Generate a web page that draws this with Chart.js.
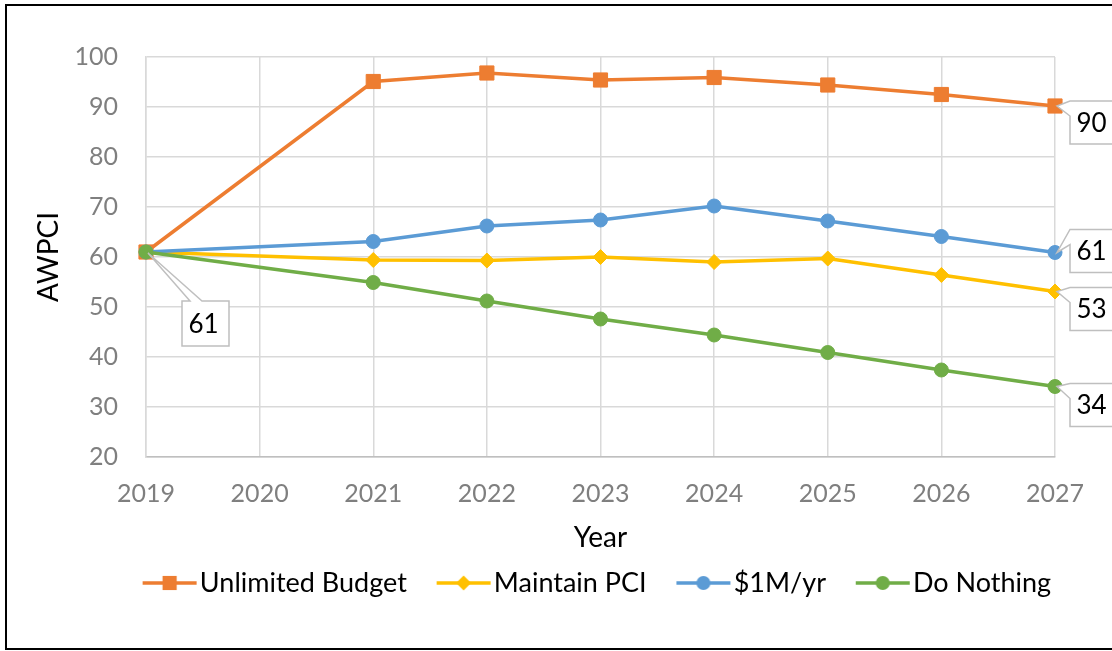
<!DOCTYPE html>
<html>
<head>
<meta charset="utf-8">
<script src="https://cdn.jsdelivr.net/npm/chart.js@4/dist/chart.umd.min.js"></script>
<style>
  html, body { margin: 0; padding: 0; background: #fff; overflow: hidden; }
  #wrap { position: relative; width: 1112px; height: 651px; overflow: hidden; }
  #frame { position: absolute; left: 5px; top: 4px; width: 1200px; height: 642px; border: 2px solid #000; pointer-events: none; }
  canvas { position: absolute; left: 0; top: 0; }
</style>
</head>
<body>
<div id="wrap">
  <canvas id="chart" width="1112" height="651"></canvas>
  <div id="frame"></div>
</div>
<script>
// --- data ---
const years = ['2019', '2020', '2021', '2022', '2023', '2024', '2025', '2026', '2027'];
const unlimitedBudget = [61, null, 95.1, 96.8, 95.4, 95.9, 94.4, 92.5, 90.2];
const maintainPci     = [61, null, 59.4, 59.3, 60.0, 59.0, 59.7, 56.4, 53.1];
const oneMillionYr    = [61, null, 63.1, 66.2, 67.4, 70.2, 67.2, 64.1, 60.9];
const doNothing       = [61, null, 54.9, 51.2, 47.6, 44.4, 40.9, 37.4, 34.1];
const seriesNames = ['Unlimited Budget', 'Maintain PCI', '$1M/yr', 'Do Nothing'];
const yMin = 20, yMax = 100, yStep = 10;

const colors = ['#ED7D31', '#FFC000', '#5B9BD5', '#70AD47'];
const markers = [
  { style: 'rect', radius: 10 },
  { style: 'rectRot', radius: 7.5 },
  { style: 'circle', radius: 7 },
  { style: 'circle', radius: 7 }
];

// callouts: which point gets a label box, and how the box sits next to it
const callouts = [
  { ds: 3, i: 0, side: 'below' },
  { ds: 0, i: 8, side: 'right', dy: -5 },
  { ds: 2, i: 8, side: 'right', dy: -23 },
  { ds: 1, i: 8, side: 'right', dy: -4 },
  { ds: 3, i: 8, side: 'right', dy: -3 }
];

const FONT = "Lato, Carlito, 'Open Sans', sans-serif";
Chart.defaults.font.family = FONT;

// legend icon: a short line with the marker in the middle (like Excel)
function makeIcon(color, marker) {
  const c = document.createElement('canvas');
  c.width = 90; c.height = 24;
  const g = c.getContext('2d');
  g.strokeStyle = color;
  g.fillStyle = color;
  g.lineWidth = 3.5;
  g.beginPath(); g.moveTo(33, 12); g.lineTo(87, 12); g.stroke();
  const cx = 60, cy = 12, r = marker.radius;
  g.beginPath();
  if (marker.style === 'rect') {
    const s = r * Math.SQRT1_2;
    g.rect(cx - s, cy - s, 2 * s, 2 * s);
  } else if (marker.style === 'rectRot') {
    g.moveTo(cx - r, cy); g.lineTo(cx, cy - r); g.lineTo(cx + r, cy); g.lineTo(cx, cy + r); g.closePath();
  } else {
    g.arc(cx, cy, r, 0, Math.PI * 2);
  }
  g.fill();
  return c;
}
const legendIcons = colors.map((c, k) => makeIcon(c, markers[k]));

const seriesData = [unlimitedBudget, maintainPci, oneMillionYr, doNothing];
const datasets = seriesData.map((d, k) => ({
  label: seriesNames[k],
  data: d,
  borderColor: colors[k],
  backgroundColor: colors[k],
  borderWidth: 3.5,
  pointStyle: markers[k].style,
  pointRadius: markers[k].radius,
  pointHoverRadius: markers[k].radius,
  pointBackgroundColor: colors[k],
  pointBorderColor: colors[k],
  pointBorderWidth: 1,
  spanGaps: true,
  tension: 0,
  order: 3 - k
}));

// Excel-style callout boxes with a wedge pointing at the point
const calloutPlugin = {
  id: 'callouts',
  afterDatasetsDraw(chart) {
    const ctx = chart.ctx;
    ctx.save();
    ctx.font = '26px ' + FONT;
    ctx.textAlign = 'center';
    ctx.textBaseline = 'middle';
    callouts.forEach(c => {
      const pt = chart.getDatasetMeta(c.ds).data[c.i];
      const value = chart.data.datasets[c.ds].data[c.i];
      const px = pt.x, py = pt.y;
      let x0, y0, w, h;
      ctx.beginPath();
      if (c.side === 'below') {
        x0 = px + 36; y0 = py + 49; w = 47; h = 45;
        ctx.moveTo(x0, y0);
        ctx.lineTo(px + 44, y0);
        ctx.lineTo(px + 2, py + 1);
        ctx.lineTo(px + 56, y0);
        ctx.lineTo(x0 + w, y0);
        ctx.lineTo(x0 + w, y0 + h);
        ctx.lineTo(x0, y0 + h);
        ctx.closePath();
      } else {
        x0 = px + 15; y0 = py + c.dy; w = 47; h = 43;
        ctx.moveTo(x0, y0);
        ctx.lineTo(x0 + w, y0);
        ctx.lineTo(x0 + w, y0 + h);
        ctx.lineTo(x0, y0 + h);
        ctx.lineTo(x0, y0 + 15);
        ctx.lineTo(px + 2, py);
        ctx.closePath();
      }
      ctx.fillStyle = '#fff';
      ctx.fill();
      ctx.strokeStyle = '#bfbfbf';
      ctx.lineWidth = 1.5;
      ctx.stroke();
      ctx.fillStyle = '#000';
      ctx.fillText(String(Math.round(value)), x0 + w / 2 - 2, y0 + h / 2 + 1);
    });
    ctx.restore();
  }
};

// nudge the legend row so it sits where Excel put it
const legendShift = {
  id: 'legendShift',
  afterLayout(chart) {
    const lg = chart.legend;
    const shift = 587 - (lg.left + lg.right) / 2;
    lg.left += shift;
    lg.right += shift;
  }
};

new Chart(document.getElementById('chart'), {
  type: 'line',
  data: { labels: years, datasets: datasets },
  options: {
    responsive: false,
    animation: false,
    devicePixelRatio: 1,
    layout: { padding: { left: 20, top: 57, right: 57, bottom: 44.5 } },
    scales: {
      x: {
        type: 'category',
        offset: false,
        grid: { color: '#d9d9d9', lineWidth: 1.5, drawTicks: false },
        border: { color: '#bfbfbf', width: 1.5 },
        ticks: { color: '#7f7f7f', font: { size: 25 }, padding: 22, maxRotation: 0, autoSkip: false },
        title: { display: true, text: 'Year', color: '#000', font: { size: 28 }, padding: { top: 0, bottom: 4.7 } },
        afterFit(scale) { scale.height = 102.5; scale.paddingLeft = 0; scale.paddingRight = 0; }
      },
      y: {
        min: yMin,
        max: yMax,
        grid: { color: '#d9d9d9', lineWidth: 1.5, drawTicks: false },
        border: { color: '#d9d9d9', width: 1.5 },
        ticks: { stepSize: yStep, color: '#7f7f7f', font: { size: 25 }, padding: 28 },
        title: { display: true, text: 'AWPCI', color: '#000', font: { size: 28 }, padding: { top: 12, bottom: 0 } },
        afterFit(scale) { scale.width = 126; scale.paddingTop = 0; scale.paddingBottom = 0; }
      }
    },
    plugins: {
      legend: {
        position: 'bottom',
        labels: {
          color: '#000',
          font: { size: 27 },
          usePointStyle: true,
          pointStyleWidth: 63.5,
          padding: 10,
          sort: (a, b) => a.datasetIndex - b.datasetIndex,
          generateLabels: chart => Chart.defaults.plugins.legend.labels.generateLabels(chart)
            .map(l => Object.assign(l, { pointStyle: legendIcons[l.datasetIndex], rotation: 0 }))
        }
      },
      tooltip: { enabled: false }
    }
  },
  plugins: [calloutPlugin, legendShift]
});
</script>
</body>
</html>
